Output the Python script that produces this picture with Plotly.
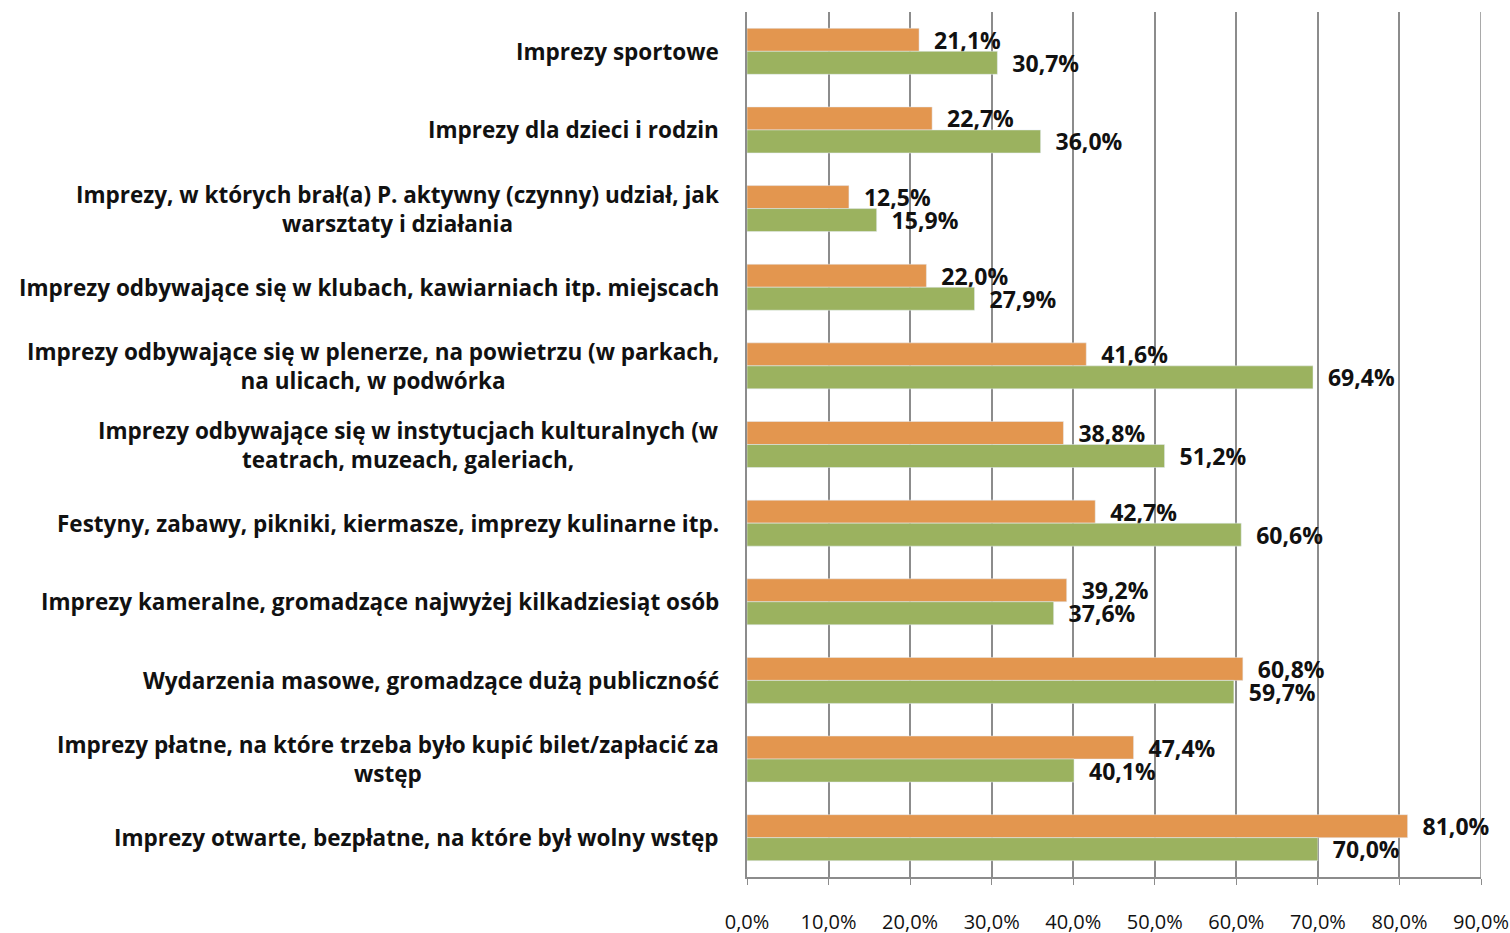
import plotly.graph_objects as go

categories = [
    "Imprezy sportowe",
    "Imprezy dla dzieci i rodzin",
    "Imprezy, w których brał(a) P. aktywny (czynny) udział, jak<br>warsztaty i działania",
    "Imprezy odbywające się w klubach, kawiarniach itp. miejscach",
    "Imprezy odbywające się w plenerze, na powietrzu (w parkach,<br>na ulicach, w podwórka",
    "Imprezy odbywające się w instytucjach kulturalnych (w<br>teatrach, muzeach, galeriach,",
    "Festyny, zabawy, pikniki, kiermasze, imprezy kulinarne itp.",
    "Imprezy kameralne, gromadzące najwyżej kilkadziesiąt osób",
    "Wydarzenia masowe, gromadzące dużą publiczność",
    "Imprezy płatne, na które trzeba było kupić bilet/zapłacić za<br>wstęp",
    "Imprezy otwarte, bezpłatne, na które był wolny wstęp",
]
series_orange = [21.1, 22.7, 12.5, 22.0, 41.6, 38.8, 42.7, 39.2, 60.8, 47.4, 81.0]
series_green = [30.7, 36.0, 15.9, 27.9, 69.4, 51.2, 60.6, 37.6, 59.7, 40.1, 70.0]
tick_vals = [0, 10, 20, 30, 40, 50, 60, 70, 80, 90]
tick_text = ["0,0%", "10,0%", "20,0%", "30,0%", "40,0%", "50,0%", "60,0%", "70,0%", "80,0%", "90,0%"]

def fmt(v):
    return "  " + f"{v:.1f}%".replace(".", ",")

label_font = dict(family="Open Sans", size=23, color="#111111", weight="bold")
grid_color = "#8C8C8C"

fig = go.Figure()
fig.add_trace(go.Bar(
    y=categories, x=series_orange, orientation="h",
    marker=dict(color="#E3964F"),
    text=[fmt(v) for v in series_orange], textposition="outside",
    textfont=label_font, constraintext="none",
    cliponaxis=False, showlegend=False,
))
fig.add_trace(go.Bar(
    y=categories, x=series_green, orientation="h",
    marker=dict(color="#9BB25F"),
    text=[fmt(v) for v in series_green], textposition="outside",
    textfont=label_font, constraintext="none",
    cliponaxis=False, showlegend=False,
))

for c in categories:
    fig.add_annotation(
        x=0, xref="paper", y=c, yref="y", xanchor="right", xshift=-26,
        text=c, showarrow=False, align="center",
        font=dict(family="Open Sans", size=22.5, color="#111111", weight="bold"),
    )

# gridline at the right end of the axis (plotly omits the edge gridline)
fig.add_shape(type="line", xref="x", yref="paper", x0=tick_vals[-1], x1=tick_vals[-1],
              y0=0, y1=1, line=dict(color=grid_color, width=1.5), layer="below")

fig.update_layout(
    width=1510, height=933,
    margin=dict(l=747, r=29, t=12, b=56, autoexpand=False),
    paper_bgcolor="white", plot_bgcolor="white",
    barmode="group", bargap=0.415, bargroupgap=0,
)
fig.update_xaxes(
    range=[0, 90], tickvals=tick_vals, ticktext=tick_text,
    showgrid=True, gridcolor=grid_color, gridwidth=1.5,
    showline=True, linecolor=grid_color, linewidth=1.5,
    ticks="outside", ticklen=6, tickcolor=grid_color,
    tickfont=dict(family="Open Sans", size=20, color="#111111"),
    ticklabelstandoff=20, ticklabeloverflow="allow",
    zeroline=False, automargin=False,
)
fig.update_yaxes(
    autorange="reversed", showticklabels=False,
    showline=True, linecolor=grid_color, linewidth=1.5,
    ticks="", showgrid=False, automargin=False,
)

fig.write_html(
    "out.html",
    config={"displayModeBar": False},
    post_script="document.body.style.margin='0';document.documentElement.style.overflow='hidden';",
)
